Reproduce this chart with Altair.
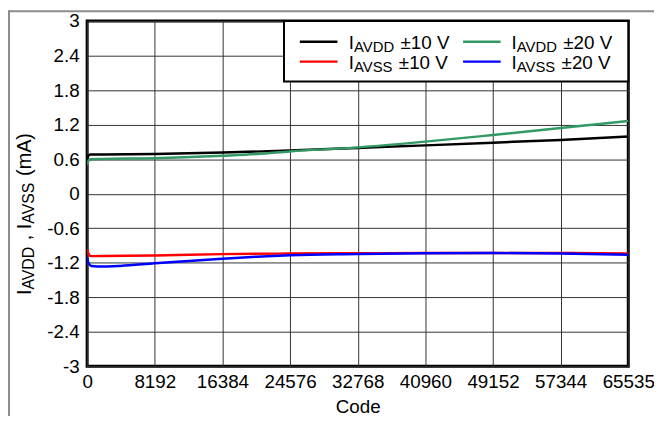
import altair as alt
import pandas as pd

# ---- data ----
x_ticks = [0, 8192, 16384, 24576, 32768, 40960, 49152, 57344, 65535]
y_ticks = [-3, -2.4, -1.8, -1.2, -0.6, 0, 0.6, 1.2, 1.8, 2.4, 3]

avdd10_code = [0, 150, 400, 2000, 8192, 16384, 24576, 32768, 40960, 49152, 57344, 65535]
avdd10_val = [0.58, 0.66, 0.68, 0.683, 0.69, 0.715, 0.75, 0.795, 0.84, 0.887, 0.935, 0.995]

avdd20_code = [0, 150, 400, 2000, 8192, 16384, 20600, 24576, 32768, 40960, 49152, 57344, 65535]
avdd20_val = [0.5, 0.57, 0.6, 0.605, 0.617, 0.66, 0.69, 0.735, 0.805, 0.905, 1.02, 1.14, 1.265]

avss10_code = [0, 150, 500, 2000, 8192, 16384, 24576, 32768, 40960, 49152, 57344, 65535]
avss10_val = [-0.96, -1.04, -1.085, -1.083, -1.075, -1.05, -1.04, -1.035, -1.03, -1.03, -1.03, -1.04]

avss20_code = [0, 150, 500, 2000, 4000, 8192, 12288, 16384, 20480, 24576, 32768, 40960, 49152, 57344, 65535]
avss20_val = [-1.11, -1.2, -1.255, -1.265, -1.255, -1.21, -1.17, -1.13, -1.095, -1.07, -1.05, -1.035, -1.03, -1.04, -1.06]

series_names = ["IAVDD ±10 V", "IAVDD ±20 V", "IAVSS ±10 V", "IAVSS ±20 V"]
series_colors = ["#000000", "#339966", "#ff0000", "#0000ff"]
series_data = [(avdd10_code, avdd10_val), (avdd20_code, avdd20_val),
               (avss10_code, avss10_val), (avss20_code, avss20_val)]

FONT = "Liberation Sans"
W_PLOT, H_PLOT = 547, 349
PAD_L, PAD_T = 80, 11

xscale = alt.Scale(domain=[0, 65535], nice=False, zero=False)
yscale = alt.Scale(domain=[-3, 3], nice=False, zero=False)

xaxis = alt.Axis(values=x_ticks, title="Code", labelExpr="'' + datum.value",
                 grid=True, gridColor="#333333", gridWidth=1, domain=False, ticks=False,
                 labelFont=FONT, labelFontSize=19, labelColor="#000", labelPadding=6,
                 labelFlush=False, labelOverlap=False,
                 titleFont=FONT, titleFontSize=19, titleFontWeight="normal", titleColor="#000",
                 titlePadding=7)
yaxis = alt.Axis(values=y_ticks, title=None, labelExpr="'' + datum.value",
                 grid=True, gridColor="#333333", gridWidth=1, domain=False, ticks=False,
                 labelFont=FONT, labelFontSize=19, labelColor="#000", labelPadding=8,
                 labelFlush=False, labelOverlap=False)

one = pd.DataFrame({"a": [0]})
layers = []
for name, color, (cx, cy) in zip(series_names, series_colors, series_data):
    d = pd.DataFrame({"code": cx, "val": cy})
    layers.append(alt.Chart(d).mark_line(color=color, strokeWidth=2.5, clip=True,
                                         interpolate="monotone").encode(
        x=alt.X("code:Q", scale=xscale, axis=xaxis),
        y=alt.Y("val:Q", scale=yscale, axis=yaxis)))

# ---- text width helper (Arial metrics) ----
AW = {' ': 278, 'I': 278, 'A': 667, 'V': 667, 'D': 722, 'S': 667, '±': 584, '1': 556,
      '0': 556, '2': 556, ',': 278, '(': 333, ')': 333, 'm': 833}


def tw(s, fs):
    return sum(AW.get(c, 556) for c in s) * fs / 1000.0


def txt(s, x, y, fs, angle=0):
    return alt.Chart(one).mark_text(text=s, font=FONT, fontSize=fs, color="#000",
                                    align="left", baseline="alphabetic", angle=angle).encode(
        x=alt.value(x), y=alt.value(y))


# ---- outer gray frame (at the drawing's edge) ----
layers.append(alt.Chart(one).mark_rule(color="#8c8c8c", strokeWidth=2).encode(
    x=alt.value(-PAD_L + 1), y=alt.value(-PAD_T), y2=alt.value(420)))
layers.append(alt.Chart(one).mark_rule(color="#8c8c8c", strokeWidth=2).encode(
    x=alt.value(-PAD_L), x2=alt.value(580), y=alt.value(-PAD_T + 1)))

# ---- legend box ----
layers.append(alt.Chart(one).mark_rect(fill="white", stroke="black", strokeWidth=2).encode(
    x=alt.value(199), x2=alt.value(547), y=alt.value(0), y2=alt.value(61)))

MAIN, SUB, DROP = 19, 15, 3
leg_cols = [(215, 253, 264.5), (380, 418, 429)]
leg_rows = [(21, 28), (41, 48)]
leg_items = [("AVDD", "±10 V", 0, 0), ("AVDD", "±20 V", 1, 0),
             ("AVSS", "±10 V", 0, 1), ("AVSS", "±20 V", 1, 1)]
leg_colors = ["#000000", "#339966", "#ff0000", "#0000ff"]
for (sub, volt, c, r), colr in zip(leg_items, leg_colors):
    sx1, sx2, tx = leg_cols[c]
    sy, by = leg_rows[r]
    layers.append(alt.Chart(one).mark_rule(color=colr, strokeWidth=2.5).encode(
        x=alt.value(sx1), x2=alt.value(sx2), y=alt.value(sy)))
    layers.append(txt("I", tx, by, MAIN))
    x2 = tx + tw("I", MAIN)
    layers.append(txt(sub, x2, by + DROP, SUB))
    x3 = x2 + tw(sub, SUB) + tw(" ", MAIN)
    layers.append(txt(volt, x3, by, MAIN))

# ---- rotated y-axis title: I_AVDD , I_AVSS (mA) ----
TM, TS, TD = 20, 16, 3
tx0 = -57
ty = 277
pieces = [("I", TM, 0, 0), ("AVDD", TS, TD, 0), (",", TM, 0, 1), ("I", TM, 0, 1),
          ("AVSS", TS, TD, 0), ("(mA)", TM, 0, 1)]
for s, fs, dd, lead in pieces:
    ty -= lead * tw(" ", TM)
    layers.append(txt(s, tx0 + dd, ty, fs, angle=270))
    ty -= tw(s, fs)

chart = alt.layer(*layers).properties(
    width=W_PLOT, height=H_PLOT,
    autosize=alt.AutoSizeParams(type="none"),
    padding={"left": PAD_L, "top": PAD_T, "right": 26, "bottom": 48},
    background="white",
).configure_view(stroke="black", strokeWidth=3)

chart.save("out.html", embed_options={"renderer": "svg", "actions": False})
